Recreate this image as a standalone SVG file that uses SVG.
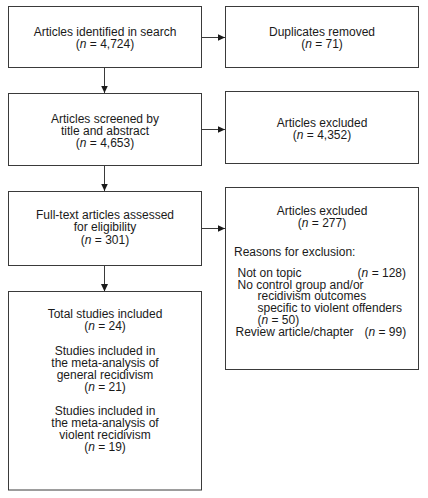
<svg xmlns="http://www.w3.org/2000/svg" width="428" height="498" viewBox="0 0 428 498">
<style>
.box{fill:#fff;stroke:#3a3a3a;stroke-width:1}
text{font-family:"Liberation Sans",Arial,sans-serif;font-size:12px;fill:#1a1a1a}
.c{text-anchor:middle}
.i{font-style:italic}
.ln{stroke:#3a3a3a;stroke-width:1;fill:none}
</style>
<defs>
<marker id="ah" markerWidth="8" markerHeight="8" refX="7.5" refY="3.5" orient="auto" markerUnits="userSpaceOnUse">
<path d="M0,0 L7.5,3.5 L0,7 Z" fill="#1a1a1a"/>
</marker>
</defs>
<rect width="428" height="498" fill="#fff"/>
<g id="connectors">
<line class="ln" x1="201" y1="37.5" x2="225" y2="37.5" marker-end="url(#ah)"/>
<line class="ln" x1="104.5" y1="67.5" x2="104.5" y2="93" marker-end="url(#ah)"/>
<line class="ln" x1="201" y1="129.5" x2="225" y2="129.5" marker-end="url(#ah)"/>
<line class="ln" x1="104.5" y1="165.5" x2="104.5" y2="191" marker-end="url(#ah)"/>
<line class="ln" x1="201" y1="228.5" x2="225" y2="228.5" marker-end="url(#ah)"/>
<line class="ln" x1="104.5" y1="265.5" x2="104.5" y2="291.5" marker-end="url(#ah)"/>
</g>
<g id="n1">
<rect class="box" x="8.5" y="6.5" width="193" height="61"/>
<text class="c" x="105" y="36">Articles identified in search</text>
<text class="c" x="105" y="48">(<tspan class="i">n</tspan> = 4,724)</text>
</g>
<g id="n2">
<rect class="box" x="225.5" y="6.5" width="193" height="61"/>
<text class="c" x="322" y="35.5">Duplicates removed</text>
<text class="c" x="322" y="47.5">(<tspan class="i">n</tspan> = 71)</text>
</g>
<g id="n3">
<rect class="box" x="8.5" y="93.5" width="193" height="72"/>
<text class="c" x="105" y="122.5">Articles screened by</text>
<text class="c" x="105" y="134.7">title and abstract</text>
<text class="c" x="105" y="146.9">(<tspan class="i">n</tspan> = 4,653)</text>
</g>
<g id="n4">
<rect class="box" x="225.5" y="91.5" width="193" height="72"/>
<text class="c" x="322" y="126.5">Articles excluded</text>
<text class="c" x="322" y="139">(<tspan class="i">n</tspan> = 4,352)</text>
</g>
<g id="n5">
<rect class="box" x="8.5" y="191.5" width="193" height="74"/>
<text class="c" x="105" y="219">Full-text articles assessed</text>
<text class="c" x="105" y="231.3">for eligibility</text>
<text class="c" x="105" y="243.6">(<tspan class="i">n</tspan> = 301)</text>
</g>
<g id="n6">
<rect class="box" x="225.5" y="187.5" width="193" height="182"/>
<text class="c" x="322" y="214.5">Articles excluded</text>
<text class="c" x="322" y="226.5">(<tspan class="i">n</tspan> = 277)</text>
<text x="234" y="256">Reasons for exclusion:</text>
<text x="237.5" y="276.7">Not on topic</text>
<text x="406" y="276.7" text-anchor="end">(<tspan class="i">n</tspan> = 128)</text>
<text x="237.5" y="288.5">No control group and/or</text>
<text x="257.5" y="300.3">recidivism outcomes</text>
<text x="257.5" y="312.1">specific to violent offenders</text>
<text x="257.5" y="323.9">(<tspan class="i">n</tspan> = 50)</text>
<text x="235.5" y="335.7">Review article/chapter</text>
<text x="364.5" y="335.7">(<tspan class="i">n</tspan> = 99)</text>
</g>
<g id="n7">
<rect class="box" x="8.5" y="291.5" width="193" height="198.5"/>
<text class="c" x="105" y="318.3">Total studies included</text>
<text class="c" x="105" y="330.4">(<tspan class="i">n</tspan> = 24)</text>
<text class="c" x="105" y="354.6">Studies included in</text>
<text class="c" x="105" y="366.7">the meta-analysis of</text>
<text class="c" x="105" y="378.8">general recidivism</text>
<text class="c" x="105" y="390.9">(<tspan class="i">n</tspan> = 21)</text>
<text class="c" x="105" y="415.1">Studies included in</text>
<text class="c" x="105" y="427.2">the meta-analysis of</text>
<text class="c" x="105" y="439.3">violent recidivism</text>
<text class="c" x="105" y="451.4">(<tspan class="i">n</tspan> = 19)</text>
</g>
</svg>
